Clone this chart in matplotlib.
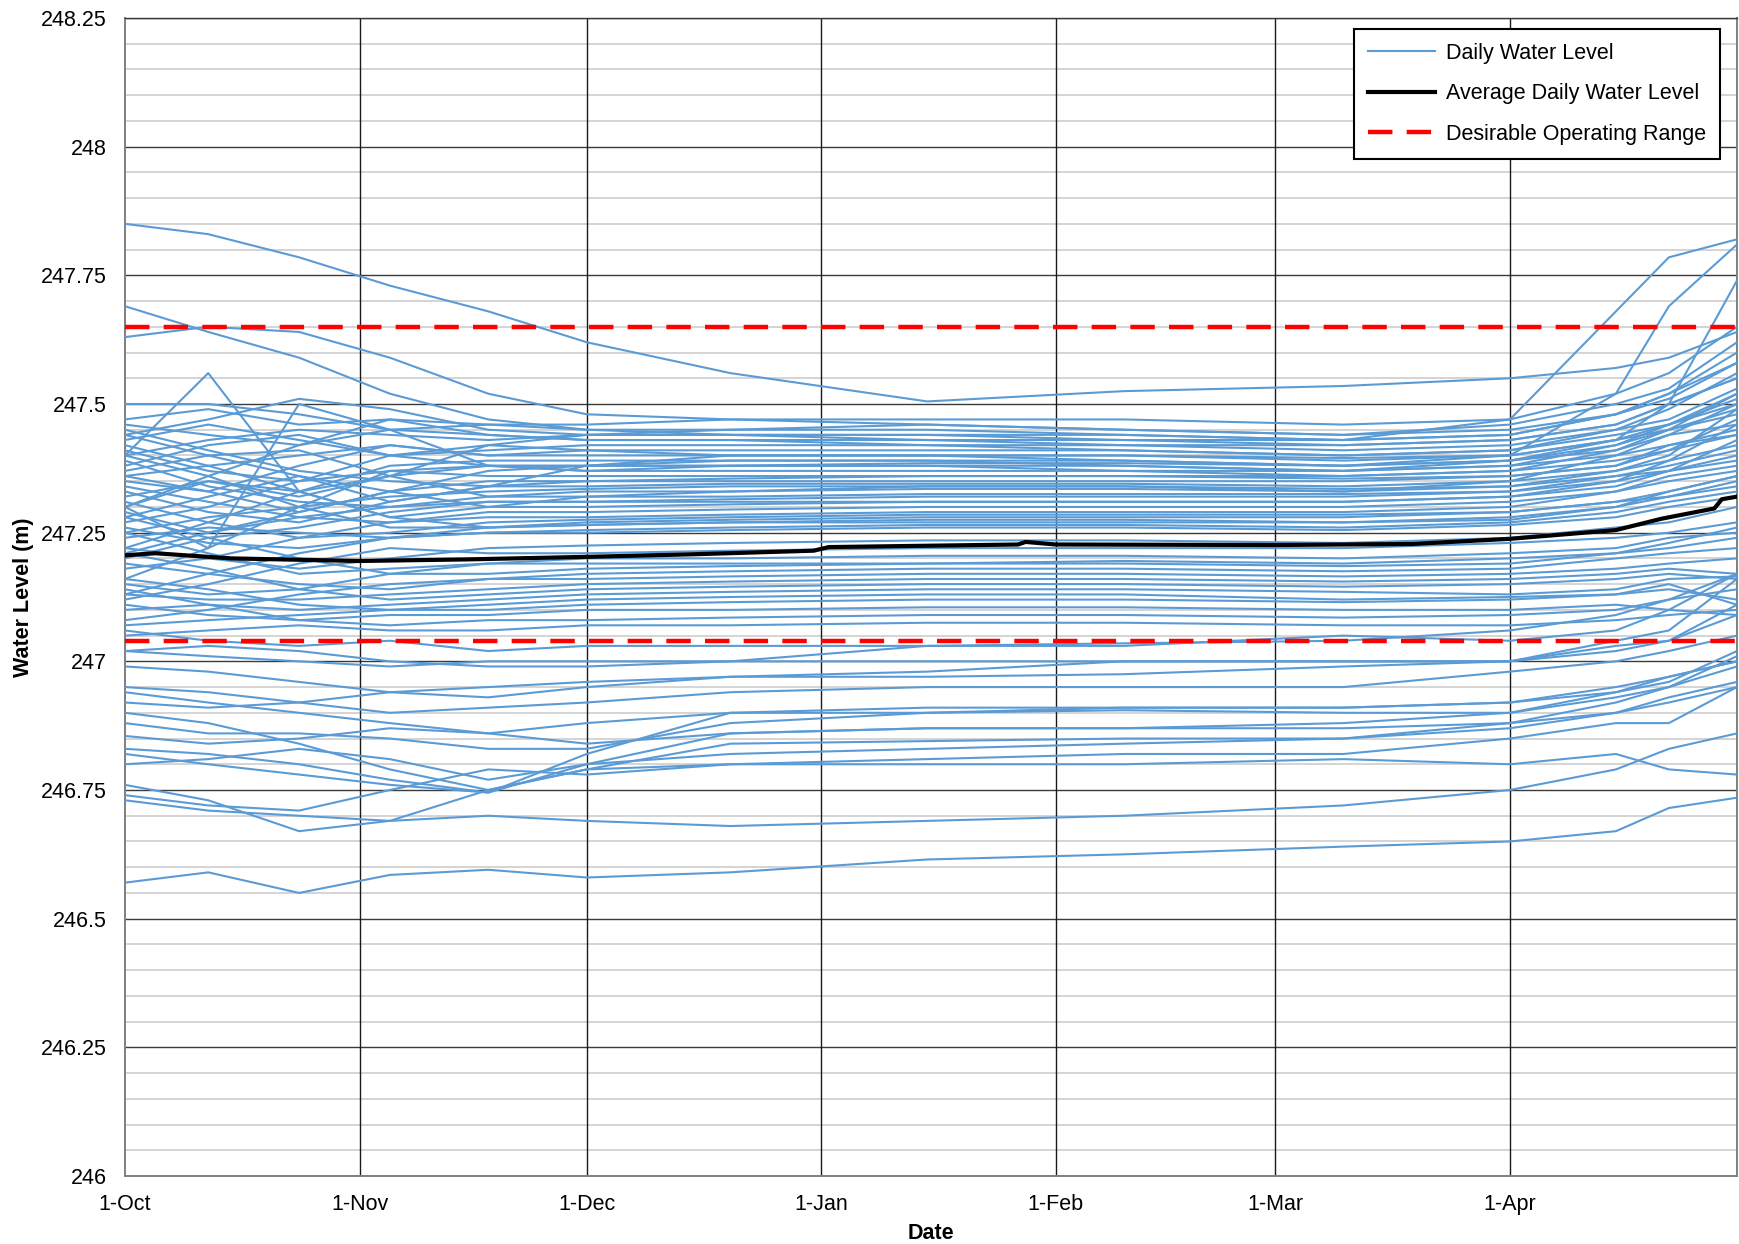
import datetime
import matplotlib
matplotlib.use("Agg")
import matplotlib.pyplot as plt
from matplotlib.lines import Line2D

plt.rcParams['font.family'] = ['Liberation Sans', 'DejaVu Sans']

# ---------------- data ----------------
season_start = datetime.date(2019, 10, 1)
season_end = datetime.date(2020, 5, 1)
# knot positions (days after 1-Oct) at which each daily series was read
knot_days = [0, 11, 23, 35, 48, 61, 80, 106, 132, 161, 183, 197, 204, 213]

top_lines = [
    [247.85, 247.83, 247.785, 247.73, 247.68, 247.62, 247.56, 247.505, 247.525, 247.535, 247.55, 247.57, 247.59, 247.64],
    [247.69, 247.64, 247.59, 247.52, 247.47, 247.45, 247.44, 247.43, 247.42, 247.42, 247.43, 247.46, 247.50, 247.55],
    [247.63, 247.65, 247.64, 247.59, 247.52, 247.48, 247.47, 247.46, 247.45, 247.44, 247.45, 247.48, 247.52, 247.58],
    [247.40, 247.43, 247.45, 247.44, 247.43, 247.44, 247.45, 247.45, 247.44, 247.43, 247.47, 247.68, 247.785, 247.82],
    [247.36, 247.33, 247.38, 247.42, 247.40, 247.41, 247.40, 247.40, 247.39, 247.38, 247.40, 247.52, 247.69, 247.81],
    [247.30, 247.35, 247.32, 247.36, 247.38, 247.37, 247.38, 247.38, 247.37, 247.37, 247.39, 247.43, 247.50, 247.74],
    [247.40, 247.56, 247.33, 247.28, 247.30, 247.32, 247.33, 247.34, 247.34, 247.33, 247.35, 247.40, 247.44, 247.50],
    [247.30, 247.22, 247.50, 247.45, 247.38, 247.38, 247.39, 247.39, 247.38, 247.37, 247.38, 247.42, 247.46, 247.52],
    [247.50, 247.50, 247.48, 247.45, 247.44, 247.43, 247.43, 247.42, 247.41, 247.40, 247.41, 247.45, 247.49, 247.56],
    [247.44, 247.47, 247.51, 247.49, 247.45, 247.44, 247.44, 247.44, 247.43, 247.43, 247.44, 247.48, 247.52, 247.60],
]

upper_band = [
    [247.47, 247.49, 247.46, 247.47, 247.46, 247.46, 247.47, 247.47, 247.47, 247.46, 247.47, 247.52, 247.56, 247.65],
    [247.46, 247.44, 247.42, 247.45, 247.46, 247.45, 247.45, 247.46, 247.45, 247.44, 247.46, 247.50, 247.53, 247.62],
    [247.42, 247.38, 247.33, 247.36, 247.42, 247.44, 247.44, 247.44, 247.44, 247.43, 247.44, 247.48, 247.51, 247.58],
    [247.30, 247.36, 247.42, 247.47, 247.44, 247.43, 247.43, 247.43, 247.43, 247.42, 247.43, 247.46, 247.50, 247.55],
    [247.38, 247.42, 247.44, 247.40, 247.41, 247.42, 247.42, 247.42, 247.42, 247.41, 247.42, 247.45, 247.47, 247.53],
    [247.27, 247.30, 247.35, 247.40, 247.42, 247.41, 247.41, 247.41, 247.41, 247.40, 247.41, 247.44, 247.46, 247.50],
    [247.44, 247.40, 247.36, 247.31, 247.34, 247.38, 247.40, 247.40, 247.40, 247.39, 247.40, 247.43, 247.45, 247.48],
    [247.22, 247.27, 247.33, 247.38, 247.39, 247.39, 247.39, 247.39, 247.39, 247.38, 247.39, 247.41, 247.44, 247.46],
    [247.35, 247.33, 247.29, 247.33, 247.37, 247.38, 247.38, 247.38, 247.38, 247.37, 247.38, 247.40, 247.42, 247.45],
    [247.41, 247.37, 247.35, 247.37, 247.38, 247.37, 247.37, 247.37, 247.37, 247.36, 247.37, 247.39, 247.41, 247.44],
    [247.16, 247.22, 247.30, 247.37, 247.36, 247.36, 247.36, 247.36, 247.36, 247.36, 247.37, 247.41, 247.45, 247.52],
    [247.33, 247.29, 247.27, 247.31, 247.34, 247.35, 247.35, 247.35, 247.35, 247.35, 247.36, 247.38, 247.41, 247.47],
    [247.45, 247.41, 247.37, 247.35, 247.34, 247.34, 247.345, 247.345, 247.345, 247.34, 247.35, 247.37, 247.39, 247.42],
    [247.25, 247.28, 247.30, 247.32, 247.33, 247.335, 247.34, 247.34, 247.34, 247.335, 247.34, 247.37, 247.40, 247.49],
    [247.29, 247.25, 247.28, 247.30, 247.32, 247.33, 247.33, 247.335, 247.335, 247.33, 247.34, 247.36, 247.38, 247.41],
    [247.37, 247.40, 247.41, 247.36, 247.32, 247.32, 247.32, 247.325, 247.325, 247.325, 247.33, 247.36, 247.37, 247.40],
    [247.20, 247.24, 247.26, 247.29, 247.31, 247.31, 247.315, 247.32, 247.32, 247.32, 247.33, 247.35, 247.37, 247.39],
    [247.28, 247.32, 247.36, 247.33, 247.30, 247.30, 247.305, 247.31, 247.31, 247.31, 247.32, 247.34, 247.37, 247.43],
    [247.34, 247.31, 247.28, 247.27, 247.29, 247.29, 247.295, 247.30, 247.30, 247.30, 247.31, 247.33, 247.36, 247.38],
    [247.18, 247.20, 247.24, 247.27, 247.28, 247.28, 247.285, 247.29, 247.29, 247.29, 247.30, 247.33, 247.35, 247.37],
    [247.31, 247.27, 247.24, 247.25, 247.27, 247.275, 247.28, 247.285, 247.285, 247.285, 247.29, 247.31, 247.33, 247.36],
    [247.26, 247.23, 247.22, 247.24, 247.26, 247.27, 247.275, 247.28, 247.28, 247.28, 247.29, 247.31, 247.32, 247.35],
    [247.40, 247.36, 247.30, 247.26, 247.26, 247.265, 247.27, 247.275, 247.275, 247.27, 247.28, 247.30, 247.32, 247.34],
    [247.24, 247.26, 247.25, 247.24, 247.25, 247.255, 247.26, 247.265, 247.265, 247.26, 247.27, 247.29, 247.31, 247.33],
    [247.13, 247.17, 247.21, 247.24, 247.25, 247.25, 247.255, 247.26, 247.26, 247.255, 247.265, 247.28, 247.30, 247.32],
    [247.32, 247.35, 247.33, 247.28, 247.26, 247.265, 247.27, 247.27, 247.27, 247.27, 247.275, 247.30, 247.33, 247.36],
    [247.39, 247.34, 247.31, 247.30, 247.31, 247.31, 247.31, 247.31, 247.31, 247.31, 247.32, 247.35, 247.39, 247.46],
    [247.43, 247.46, 247.43, 247.40, 247.38, 247.38, 247.38, 247.385, 247.385, 247.38, 247.39, 247.42, 247.45, 247.49],
    [247.36, 247.38, 247.40, 247.42, 247.40, 247.40, 247.40, 247.40, 247.40, 247.395, 247.40, 247.43, 247.46, 247.51],
    [247.21, 247.25, 247.29, 247.33, 247.35, 247.35, 247.355, 247.36, 247.36, 247.355, 247.36, 247.38, 247.42, 247.44],
]

middle_band = [
    [247.22, 247.20, 247.18, 247.20, 247.22, 247.225, 247.23, 247.235, 247.235, 247.23, 247.24, 247.26, 247.27, 247.30],
    [247.12, 247.15, 247.19, 247.22, 247.21, 247.21, 247.215, 247.22, 247.22, 247.22, 247.23, 247.24, 247.25, 247.27],
    [247.25, 247.21, 247.17, 247.18, 247.19, 247.20, 247.20, 247.205, 247.205, 247.20, 247.21, 247.22, 247.24, 247.25],
    [247.15, 247.13, 247.14, 247.17, 247.19, 247.19, 247.19, 247.19, 247.195, 247.19, 247.20, 247.21, 247.22, 247.24],
    [247.19, 247.17, 247.15, 247.14, 247.16, 247.17, 247.175, 247.18, 247.18, 247.175, 247.18, 247.20, 247.21, 247.22],
    [247.08, 247.10, 247.13, 247.15, 247.16, 247.16, 247.165, 247.17, 247.17, 247.165, 247.17, 247.18, 247.19, 247.20],
    [247.13, 247.12, 247.12, 247.13, 247.14, 247.15, 247.155, 247.16, 247.16, 247.155, 247.16, 247.17, 247.18, 247.17],
    [247.21, 247.18, 247.14, 247.12, 247.13, 247.14, 247.145, 247.15, 247.15, 247.145, 247.15, 247.16, 247.17, 247.16],
    [247.10, 247.11, 247.10, 247.11, 247.12, 247.13, 247.135, 247.14, 247.14, 247.135, 247.13, 247.14, 247.16, 247.165],
    [247.16, 247.14, 247.11, 247.10, 247.11, 247.12, 247.125, 247.13, 247.13, 247.12, 247.125, 247.13, 247.15, 247.11],
    [247.07, 247.08, 247.09, 247.10, 247.10, 247.11, 247.115, 247.12, 247.12, 247.115, 247.12, 247.13, 247.14, 247.12],
    [247.11, 247.09, 247.08, 247.09, 247.09, 247.10, 247.10, 247.105, 247.105, 247.10, 247.10, 247.11, 247.10, 247.09],
    [247.14, 247.11, 247.08, 247.07, 247.08, 247.08, 247.085, 247.09, 247.09, 247.085, 247.09, 247.10, 247.12, 247.14],
    [247.05, 247.06, 247.07, 247.06, 247.06, 247.07, 247.07, 247.075, 247.075, 247.07, 247.07, 247.08, 247.09, 247.10],
    [247.28, 247.24, 247.20, 247.17, 247.17, 247.18, 247.185, 247.19, 247.19, 247.185, 247.19, 247.21, 247.23, 247.26],
]

lower_band = [
    [246.57, 246.59, 246.55, 246.585, 246.595, 246.58, 246.59, 246.615, 246.625, 246.64, 246.65, 246.67, 246.715, 246.735],
    [246.73, 246.71, 246.70, 246.69, 246.70, 246.69, 246.68, 246.69, 246.70, 246.72, 246.75, 246.79, 246.83, 246.86],
    [246.76, 246.73, 246.67, 246.69, 246.75, 246.79, 246.80, 246.80, 246.80, 246.81, 246.80, 246.82, 246.79, 246.78],
    [246.74, 246.72, 246.71, 246.75, 246.79, 246.78, 246.80, 246.81, 246.82, 246.82, 246.85, 246.88, 246.88, 246.95],
    [246.82, 246.80, 246.78, 246.76, 246.745, 246.80, 246.86, 246.87, 246.87, 246.87, 246.88, 246.90, 246.93, 246.96],
    [246.83, 246.82, 246.80, 246.77, 246.745, 246.82, 246.90, 246.91, 246.91, 246.91, 246.92, 246.95, 246.97, 247.00],
    [246.80, 246.81, 246.83, 246.81, 246.77, 246.80, 246.82, 246.83, 246.84, 246.85, 246.88, 246.92, 246.95, 246.99],
    [246.855, 246.84, 246.85, 246.87, 246.86, 246.84, 246.86, 246.87, 246.87, 246.88, 246.90, 246.93, 246.95, 247.01],
    [246.88, 246.86, 246.86, 246.85, 246.83, 246.83, 246.88, 246.90, 246.91, 246.91, 246.92, 246.94, 246.96, 247.02],
    [246.90, 246.88, 246.84, 246.79, 246.75, 246.79, 246.84, 246.845, 246.85, 246.85, 246.87, 246.90, 246.92, 246.95],
    [246.94, 246.92, 246.90, 246.88, 246.86, 246.88, 246.90, 246.90, 246.905, 246.90, 246.90, 246.94, 246.97, 247.00],
    [246.95, 246.94, 246.92, 246.90, 246.91, 246.92, 246.94, 246.95, 246.95, 246.95, 246.98, 247.00, 247.02, 247.05],
    [246.92, 246.91, 246.92, 246.94, 246.95, 246.96, 246.97, 246.97, 246.975, 246.99, 247.00, 247.03, 247.04, 247.09],
    [246.99, 246.98, 246.96, 246.94, 246.93, 246.95, 246.97, 246.98, 247.00, 247.00, 247.00, 247.02, 247.04, 247.11],
    [247.02, 247.01, 247.00, 246.99, 247.00, 247.00, 247.00, 247.00, 247.00, 247.00, 247.00, 247.04, 247.06, 247.16],
    [247.02, 247.03, 247.02, 247.00, 246.99, 246.99, 247.00, 247.03, 247.03, 247.05, 247.04, 247.06, 247.10, 247.17],
    [247.06, 247.04, 247.03, 247.04, 247.02, 247.03, 247.03, 247.03, 247.035, 247.04, 247.06, 247.09, 247.12, 247.17],
]

avg_days = [0, 4, 14, 31, 45, 61, 75, 91, 93, 118, 119, 123, 152, 170, 183, 197, 203, 210, 211, 213]
avg_values = [247.206, 247.21, 247.20, 247.195, 247.198, 247.203, 247.208, 247.215, 247.222, 247.227,
              247.232, 247.227, 247.226, 247.228, 247.238, 247.255, 247.277, 247.297, 247.315, 247.32]

range_upper = 247.65
range_lower = 247.04

month_ticks = [datetime.date(2019, 10, 1), datetime.date(2019, 11, 1), datetime.date(2019, 12, 1),
               datetime.date(2020, 1, 1), datetime.date(2020, 2, 1), datetime.date(2020, 3, 1),
               datetime.date(2020, 4, 1)]
month_labels = ['1-Oct', '1-Nov', '1-Dec', '1-Jan', '1-Feb', '1-Mar', '1-Apr']
y_ticks = [246.0, 246.25, 246.5, 246.75, 247.0, 247.25, 247.5, 247.75, 248.0, 248.25]
y_labels = ['246', '246.25', '246.5', '246.75', '247', '247.25', '247.5', '247.75', '248', '248.25']

# ---------------- plot ----------------
W, H = 1739, 1244
fig = plt.figure(figsize=(W / 100, H / 100), dpi=100)
ax = fig.add_axes([125 / W, 1 - 1176 / H, 1612 / W, 1158 / H])

knot_dates = [season_start + datetime.timedelta(days=d) for d in knot_days]
avg_dates = [season_start + datetime.timedelta(days=d) for d in avg_days]

blue = '#5B9BD5'
FS = 15.5
for group in (lower_band, middle_band, upper_band, top_lines):
    for series in group:
        ax.plot(knot_dates, series, color=blue, lw=1.5, zorder=3, solid_joinstyle='round')

ax.axhline(range_upper, color='#FF0000', lw=3.2, ls=(0, (5.5, 3.2)), zorder=4)
ax.axhline(range_lower, color='#FF0000', lw=3.2, ls=(0, (5.5, 3.2)), zorder=4)
ax.plot(avg_dates, avg_values, color='black', lw=3.0, zorder=5)

ax.set_xlim(season_start, season_end)
ax.set_ylim(246.0, 248.25)

# grid
for yv in [246 + 0.05 * i for i in range(46)]:
    if abs((yv - 246) / 0.25 - round((yv - 246) / 0.25)) < 1e-6:
        ax.axhline(yv, color='#3a3a3a', lw=1.0, zorder=1)
    else:
        ax.axhline(yv, color='#d4d4d4', lw=1.4, zorder=1)
for d in month_ticks[1:]:
    ax.axvline(d, color='#1a1a1a', lw=1.0, zorder=1)

ax.set_xticks(month_ticks)
ax.set_xticklabels(month_labels, fontsize=FS)
ax.set_yticks(y_ticks)
ax.set_yticklabels(y_labels, fontsize=FS)
ax.tick_params(axis='both', length=0)
ax.tick_params(axis='x', pad=13)
ax.tick_params(axis='y', pad=13)

for s in ('left', 'bottom', 'right'):
    ax.spines[s].set_color('#7f7f7f')
    ax.spines[s].set_linewidth(1.4)
ax.spines['top'].set_color('#3a3a3a')
ax.spines['top'].set_linewidth(1.0)

ax.set_xlabel('Date', fontsize=FS, fontweight='bold', labelpad=6)
ax.set_ylabel('Water Level (m)', fontsize=FS, fontweight='bold', labelpad=5)

handles = [Line2D([], [], color=blue, lw=1.5),
           Line2D([], [], color='black', lw=3.0),
           Line2D([], [], color='#FF0000', lw=3.2, ls=(0, (5.5, 3.2)))]
labels = ['Daily Water Level', 'Average Daily Water Level', 'Desirable Operating Range']
leg = ax.legend(handles, labels, loc='upper right', bbox_to_anchor=(0.9895, 0.9905),
                fontsize=FS, frameon=True, fancybox=False, framealpha=1, edgecolor='black',
                handlelength=3.1, handletextpad=0.5, labelspacing=0.9, borderpad=0.65,
                borderaxespad=0)
leg.get_frame().set_linewidth(1.5)
leg.set_zorder(10)

fig.savefig('out.png', dpi=100)
